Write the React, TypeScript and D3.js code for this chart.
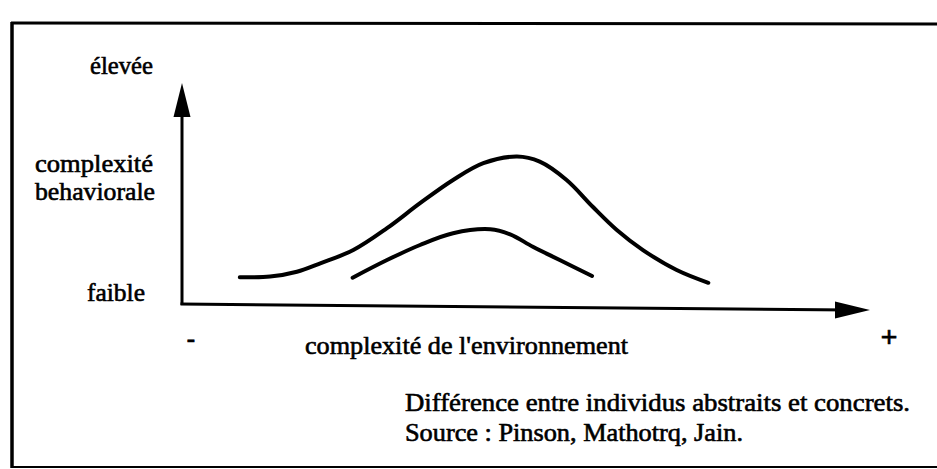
import * as d3 from "d3";
import { useEffect, useRef } from "react";

const abstraitsX = [0.84, 1.28, 1.67, 2.01, 2.49, 2.98, 3.46, 3.94, 4.38, 4.87, 5.2, 5.59, 5.97, 6.32, 6.7, 7.19, 7.65];
const abstraitsY = [1.21, 1.24, 1.46, 1.84, 2.44, 3.43, 4.56, 5.61, 6.37, 6.67, 6.44, 5.61, 4.4, 3.35, 2.44, 1.54, 0.96];
const concretsX = [2.48, 2.98, 3.46, 3.94, 4.48, 4.77, 5.1, 5.49, 5.96];
const concretsY = [1.19, 1.99, 2.67, 3.2, 3.38, 3.15, 2.59, 1.99, 1.27];

const yLabels = ["élevée", "complexité", "behaviorale", "faible"];
const xLabel = "complexité de l'environnement";
const xEnds = ["-", "+"];
const notes = ["Différence entre individus abstraits et concrets.", "Source : Pinson, Mathotrq, Jain."];

const W = 937;
const H = 469;

const App = () => {
  const ref = useRef<SVGSVGElement>(null);

  useEffect(() => {
    const svg = d3.select(ref.current);
    svg.selectAll("*").remove();

    const x = d3.scaleLinear().domain([0, 10]).range([182, 870]);
    const y = d3.scaleLinear().domain([0, 10]).range([304, 83]);

    // cadre
    const frame = svg.append("g").attr("stroke", "#000").attr("fill", "none");
    frame.append("line").attr("x1", 12).attr("y1", 22).attr("x2", 12).attr("y2", 468).attr("stroke-width", 3.5);
    frame.append("line").attr("x1", 11).attr("y1", 23).attr("x2", W).attr("y2", 24).attr("stroke-width", 3);
    frame.append("line").attr("x1", 11).attr("y1", 467).attr("x2", W).attr("y2", 467).attr("stroke-width", 2);

    // axes
    const x0 = x(0);
    const y0 = y(0);
    const yTip = y(10);
    const xTip = x(10);
    const xTipY = y0 + 6;
    const axes = svg.append("g");
    axes.append("line")
      .attr("x1", x0).attr("y1", y0 + 1).attr("x2", x0).attr("y2", yTip + 20)
      .attr("stroke", "#000").attr("stroke-width", 3);
    axes.append("polygon")
      .attr("points", `${x0},${yTip} ${x0 - 8.5},${yTip + 34} ${x0 + 8.5},${yTip + 34}`)
      .attr("fill", "#000");
    axes.append("line")
      .attr("x1", x0 - 1.5).attr("y1", y0).attr("x2", xTip - 20).attr("y2", xTipY)
      .attr("stroke", "#000").attr("stroke-width", 3);
    axes.append("polygon")
      .attr("points", `${xTip},${xTipY} ${xTip - 35},${xTipY - 8.5} ${xTip - 35},${xTipY + 8.5}`)
      .attr("fill", "#000");

    // courbes
    const line = d3.line<[number, number]>()
      .x(d => x(d[0]))
      .y(d => y(d[1]))
      .curve(d3.curveCatmullRom.alpha(0.5));

    const series = [
      d3.zip(abstraitsX, abstraitsY) as [number, number][],
      d3.zip(concretsX, concretsY) as [number, number][],
    ];
    svg.append("g")
      .selectAll("path")
      .data(series)
      .enter()
      .append("path")
      .attr("d", d => line(d))
      .attr("fill", "none")
      .attr("stroke", "#000")
      .attr("stroke-width", 4)
      .attr("stroke-linecap", "round");

    // textes (scan épais -> léger contour)
    const txt = svg.append("g")
      .attr("font-family", "Liberation Serif")
      .attr("font-size", 25)
      .attr("fill", "#000")
      .attr("stroke", "#000")
      .attr("stroke-width", 0.6);

    const yPos = [
      { x: 90, y: 74, w: 63 },
      { x: 35, y: 172, w: 118 },
      { x: 35, y: 200, w: 120 },
      { x: 87, y: 301, w: 58 },
    ];
    yLabels.forEach((t, i) => {
      txt.append("text")
        .attr("x", yPos[i].x).attr("y", yPos[i].y)
        .attr("textLength", yPos[i].w).attr("lengthAdjust", "spacingAndGlyphs")
        .text(t);
    });

    txt.append("text")
      .attr("x", 305).attr("y", 354)
      .attr("textLength", 323).attr("lengthAdjust", "spacingAndGlyphs")
      .text(xLabel);

    txt.append("text").attr("x", 191).attr("y", 347).attr("text-anchor", "middle")
      .attr("font-weight", "bold").text(xEnds[0]);
    txt.append("text").attr("x", 889).attr("y", 347).attr("text-anchor", "middle")
      .attr("font-weight", "bold").attr("font-size", 30).text(xEnds[1]);

    const notePos = [
      { y: 411, w: 505 },
      { y: 441, w: 338 },
    ];
    notes.forEach((t, i) => {
      txt.append("text")
        .attr("x", 405).attr("y", notePos[i].y)
        .attr("textLength", notePos[i].w).attr("lengthAdjust", "spacingAndGlyphs")
        .text(t);
    });
  }, []);

  return (
    <svg
      ref={ref}
      width={W}
      height={H}
      style={{ position: "absolute", left: 0, top: 0, background: "#fff" }}
    />
  );
};

export default App;
